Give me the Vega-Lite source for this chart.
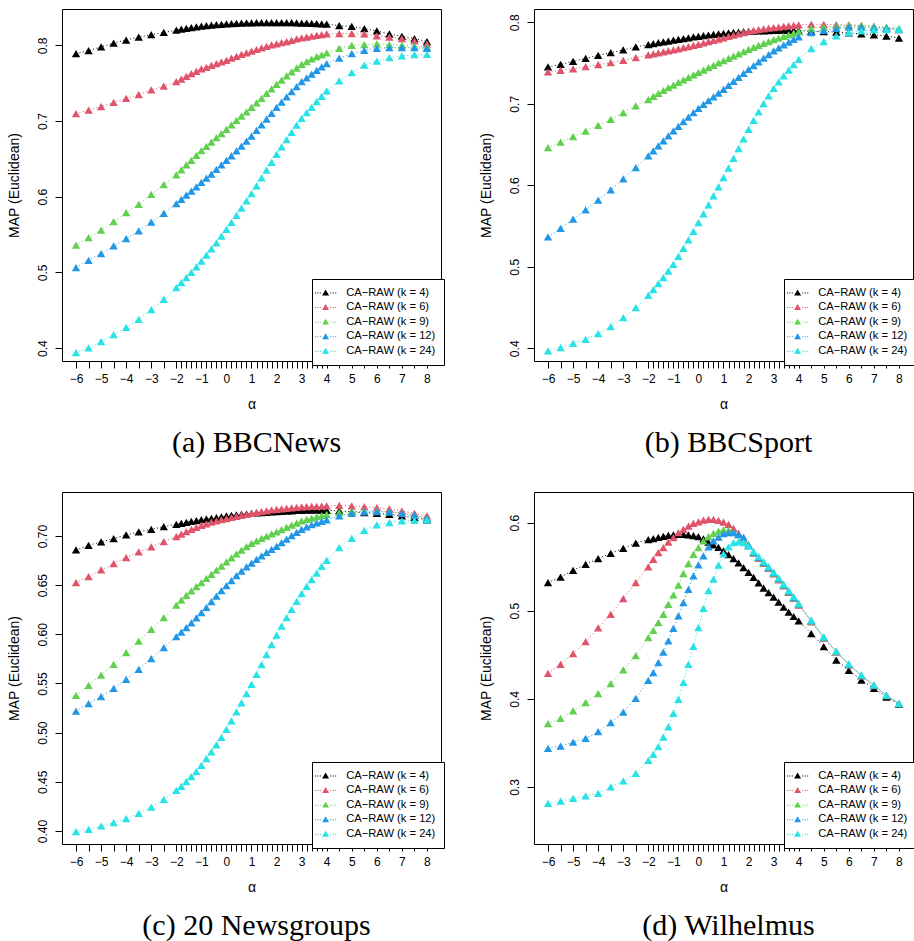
{
"$schema": "https://vega.github.io/schema/vega-lite/v6.json",
"padding": {"left": 6, "top": 8, "right": 0, "bottom": 1},
"background": "white",
"config": {
  "font": "Liberation Sans",
  "view": {"stroke": "black", "strokeWidth": 1},
  "axis": {"grid": false, "domain": false, "tickColor": "black", "tickSize": 7, "labelFont": "Liberation Sans", "labelFontSize": 12, "labelColor": "black", "titleFont": "Liberation Sans", "titleFontSize": 14, "titleFontWeight": "normal", "titleColor": "black"},
  "axisX": {"labelPadding": 5, "titlePadding": 13, "labelOverlap": false, "labelFlush": false},
  "axisY": {"labelAngle": -90, "labelAlign": "center", "labelBaseline": "bottom", "labelPadding": 6, "titlePadding": 15, "labelOverlap": false, "labelFlush": false},
  "legend": {"title": null, "orient": "none", "legendX": 250, "legendY": 270, "padding": 8, "strokeColor": "black", "strokeWidth": 1, "fillColor": "white", "cornerRadius": 0, "symbolType": "M0,-0.9L1,0.8L-1,0.8Z M-3.05,-0.04h0.3v0.3h-0.3Z M-2.35,-0.04h0.3v0.3h-0.3Z M-1.65,-0.04h0.3v0.3h-0.3Z M1.35,-0.04h0.3v0.3h-0.3Z M2.05,-0.04h0.3v0.3h-0.3Z M2.75,-0.04h0.3v0.3h-0.3Z", "symbolSize": 49, "symbolStrokeWidth": 0, "symbolOpacity": 1, "labelFont": "Liberation Sans", "labelFontSize": 11.2, "labelColor": "black", "labelOffset": 15, "rowPadding": 2.6, "labelLimit": 200},
  "title": {"font": "Liberation Serif", "fontSize": 30, "fontWeight": "normal", "color": "black", "orient": "bottom", "anchor": "middle", "offset": 17, "dx": 5}
},
"datasets": {
"bbcnews": [
{"a":-6,"k04":0.789,"k06":0.7097,"k09":0.536,"k12":0.5064,"k24":0.394},
{"a":-5.5,"k04":0.793,"k06":0.7145,"k09":0.546,"k12":0.516,"k24":0.4005},
{"a":-5,"k04":0.798,"k06":0.719,"k09":0.556,"k12":0.525,"k24":0.4085},
{"a":-4.5,"k04":0.803,"k06":0.7245,"k09":0.567,"k12":0.535,"k24":0.4177},
{"a":-4,"k04":0.807,"k06":0.73,"k09":0.579,"k12":0.5445,"k24":0.4274},
{"a":-3.5,"k04":0.811,"k06":0.735,"k09":0.59,"k12":0.555,"k24":0.438},
{"a":-3,"k04":0.814,"k06":0.741,"k09":0.603,"k12":0.5665,"k24":0.451},
{"a":-2.5,"k04":0.817,"k06":0.746,"k09":0.616,"k12":0.578,"k24":0.4645},
{"a":-2,"k04":0.82,"k06":0.752,"k09":0.629,"k12":0.591,"k24":0.48},
{"a":-1.8,"k04":0.8215,"k06":0.7555,"k09":0.6355,"k12":0.5965,"k24":0.4865},
{"a":-1.6,"k04":0.8225,"k06":0.759,"k09":0.642,"k12":0.602,"k24":0.493},
{"a":-1.4,"k04":0.8235,"k06":0.7625,"k09":0.648,"k12":0.6075,"k24":0.5},
{"a":-1.2,"k04":0.8245,"k06":0.7655,"k09":0.6545,"k12":0.613,"k24":0.5075},
{"a":-1,"k04":0.8253,"k06":0.769,"k09":0.661,"k12":0.619,"k24":0.515},
{"a":-0.8,"k04":0.826,"k06":0.771,"k09":0.6665,"k12":0.6245,"k24":0.523},
{"a":-0.6,"k04":0.8267,"k06":0.7735,"k09":0.672,"k12":0.63,"k24":0.531},
{"a":-0.4,"k04":0.8273,"k06":0.776,"k09":0.678,"k12":0.636,"k24":0.539},
{"a":-0.2,"k04":0.8278,"k06":0.778,"k09":0.6835,"k12":0.642,"k24":0.548},
{"a":0,"k04":0.8283,"k06":0.78,"k09":0.689,"k12":0.648,"k24":0.557},
{"a":0.2,"k04":0.8287,"k06":0.783,"k09":0.695,"k12":0.654,"k24":0.566},
{"a":0.4,"k04":0.829,"k06":0.7855,"k09":0.701,"k12":0.6605,"k24":0.5755},
{"a":0.6,"k04":0.8293,"k06":0.788,"k09":0.7065,"k12":0.667,"k24":0.585},
{"a":0.8,"k04":0.8296,"k06":0.79,"k09":0.712,"k12":0.6735,"k24":0.5945},
{"a":1,"k04":0.8298,"k06":0.7925,"k09":0.718,"k12":0.68,"k24":0.604},
{"a":1.2,"k04":0.83,"k06":0.7945,"k09":0.724,"k12":0.6875,"k24":0.6145},
{"a":1.4,"k04":0.83,"k06":0.7965,"k09":0.73,"k12":0.695,"k24":0.625},
{"a":1.6,"k04":0.8301,"k06":0.7985,"k09":0.7365,"k12":0.7025,"k24":0.635},
{"a":1.8,"k04":0.8301,"k06":0.8005,"k09":0.7425,"k12":0.71,"k24":0.6455},
{"a":2,"k04":0.8301,"k06":0.802,"k09":0.7485,"k12":0.718,"k24":0.656},
{"a":2.2,"k04":0.83,"k06":0.8035,"k09":0.754,"k12":0.725,"k24":0.666},
{"a":2.4,"k04":0.83,"k06":0.805,"k09":0.7595,"k12":0.732,"k24":0.6755},
{"a":2.6,"k04":0.8299,"k06":0.8065,"k09":0.765,"k12":0.739,"k24":0.685},
{"a":2.8,"k04":0.8297,"k06":0.8085,"k09":0.77,"k12":0.7455,"k24":0.6945},
{"a":3,"k04":0.8295,"k06":0.81,"k09":0.775,"k12":0.752,"k24":0.7036},
{"a":3.2,"k04":0.8293,"k06":0.811,"k09":0.7785,"k12":0.757,"k24":0.711},
{"a":3.4,"k04":0.829,"k06":0.812,"k09":0.782,"k12":0.762,"k24":0.718},
{"a":3.6,"k04":0.8287,"k06":0.813,"k09":0.785,"k12":0.767,"k24":0.7255},
{"a":3.8,"k04":0.8284,"k06":0.814,"k09":0.7875,"k12":0.7715,"k24":0.7325},
{"a":4,"k04":0.828,"k06":0.815,"k09":0.79,"k12":0.776,"k24":0.7397},
{"a":4.5,"k04":0.826,"k06":0.8155,"k09":0.796,"k12":0.783,"k24":0.7529},
{"a":5,"k04":0.825,"k06":0.8155,"k09":0.8,"k12":0.789,"k24":0.764},
{"a":5.5,"k04":0.822,"k06":0.815,"k09":0.801,"k12":0.7935,"k24":0.7737},
{"a":6,"k04":0.819,"k06":0.8125,"k09":0.802,"k12":0.796,"k24":0.779},
{"a":6.5,"k04":0.815,"k06":0.811,"k09":0.801,"k12":0.797,"k24":0.7838},
{"a":7,"k04":0.812,"k06":0.809,"k09":0.8,"k12":0.797,"k24":0.786},
{"a":7.5,"k04":0.809,"k06":0.806,"k09":0.799,"k12":0.797,"k24":0.7877},
{"a":8,"k04":0.805,"k06":0.802,"k09":0.798,"k12":0.796,"k24":0.788}
],
"bbcsport": [
{"a":-6,"k04":0.7452,"k06":0.739,"k09":0.6461,"k12":0.5366,"k24":0.3967},
{"a":-5.5,"k04":0.7483,"k06":0.741,"k09":0.653,"k12":0.547,"k24":0.4008},
{"a":-5,"k04":0.752,"k06":0.7427,"k09":0.6597,"k12":0.5584,"k24":0.4061},
{"a":-4.5,"k04":0.7557,"k06":0.7455,"k09":0.6666,"k12":0.5699,"k24":0.411},
{"a":-4,"k04":0.7594,"k06":0.748,"k09":0.6736,"k12":0.5817,"k24":0.418},
{"a":-3.5,"k04":0.7627,"k06":0.7504,"k09":0.681,"k12":0.5944,"k24":0.4266},
{"a":-3,"k04":0.766,"k06":0.7533,"k09":0.6892,"k12":0.6079,"k24":0.4376},
{"a":-2.5,"k04":0.7697,"k06":0.7565,"k09":0.6974,"k12":0.6218,"k24":0.4499},
{"a":-2,"k04":0.7725,"k06":0.76,"k09":0.7052,"k12":0.6361,"k24":0.465},
{"a":-1.8,"k04":0.7737,"k06":0.7612,"k09":0.709,"k12":0.6423,"k24":0.472},
{"a":-1.6,"k04":0.7749,"k06":0.7624,"k09":0.7127,"k12":0.6485,"k24":0.4792},
{"a":-1.4,"k04":0.776,"k06":0.7636,"k09":0.7163,"k12":0.6546,"k24":0.4868},
{"a":-1.2,"k04":0.777,"k06":0.7649,"k09":0.7197,"k12":0.6607,"k24":0.4947},
{"a":-1,"k04":0.778,"k06":0.7662,"k09":0.723,"k12":0.6667,"k24":0.503},
{"a":-0.8,"k04":0.779,"k06":0.7675,"k09":0.7262,"k12":0.6724,"k24":0.5127},
{"a":-0.6,"k04":0.78,"k06":0.7688,"k09":0.7293,"k12":0.678,"k24":0.5227},
{"a":-0.4,"k04":0.781,"k06":0.7702,"k09":0.7324,"k12":0.6836,"k24":0.5329},
{"a":-0.2,"k04":0.782,"k06":0.7716,"k09":0.7355,"k12":0.6891,"k24":0.5434},
{"a":0,"k04":0.7828,"k06":0.773,"k09":0.7385,"k12":0.6945,"k24":0.5541},
{"a":0.2,"k04":0.7836,"k06":0.7746,"k09":0.7414,"k12":0.6992,"k24":0.565},
{"a":0.4,"k04":0.7844,"k06":0.7762,"k09":0.7443,"k12":0.7039,"k24":0.576},
{"a":0.6,"k04":0.7851,"k06":0.7778,"k09":0.7472,"k12":0.7085,"k24":0.5871},
{"a":0.8,"k04":0.7858,"k06":0.7794,"k09":0.7501,"k12":0.7131,"k24":0.5982},
{"a":1,"k04":0.7865,"k06":0.781,"k09":0.753,"k12":0.7178,"k24":0.6093},
{"a":1.2,"k04":0.787,"k06":0.7826,"k09":0.7558,"k12":0.7227,"k24":0.6212},
{"a":1.4,"k04":0.7875,"k06":0.7842,"k09":0.7586,"k12":0.7276,"k24":0.6331},
{"a":1.6,"k04":0.788,"k06":0.7858,"k09":0.7613,"k12":0.7325,"k24":0.645},
{"a":1.8,"k04":0.7884,"k06":0.7874,"k09":0.764,"k12":0.7374,"k24":0.6569},
{"a":2,"k04":0.7888,"k06":0.789,"k09":0.7667,"k12":0.7423,"k24":0.6687},
{"a":2.2,"k04":0.7891,"k06":0.7901,"k09":0.7692,"k12":0.7469,"k24":0.6795},
{"a":2.4,"k04":0.7894,"k06":0.7911,"k09":0.7717,"k12":0.7515,"k24":0.69},
{"a":2.6,"k04":0.7896,"k06":0.792,"k09":0.7741,"k12":0.756,"k24":0.7001},
{"a":2.8,"k04":0.7898,"k06":0.7928,"k09":0.7764,"k12":0.7604,"k24":0.7098},
{"a":3,"k04":0.79,"k06":0.7935,"k09":0.7786,"k12":0.7648,"k24":0.719},
{"a":3.2,"k04":0.7901,"k06":0.7942,"k09":0.7807,"k12":0.7686,"k24":0.7268},
{"a":3.4,"k04":0.7901,"k06":0.7949,"k09":0.7827,"k12":0.7722,"k24":0.7342},
{"a":3.6,"k04":0.7901,"k06":0.7955,"k09":0.7847,"k12":0.7757,"k24":0.7413},
{"a":3.8,"k04":0.79,"k06":0.7961,"k09":0.7866,"k12":0.7789,"k24":0.7481},
{"a":4,"k04":0.7898,"k06":0.7967,"k09":0.7885,"k12":0.782,"k24":0.7546},
{"a":4.5,"k04":0.789,"k06":0.7975,"k09":0.7926,"k12":0.7873,"k24":0.7677},
{"a":5,"k04":0.7885,"k06":0.7975,"k09":0.7942,"k12":0.79,"k24":0.7763},
{"a":5.5,"k04":0.788,"k06":0.797,"k09":0.7954,"k12":0.7926,"k24":0.7833},
{"a":6,"k04":0.787,"k06":0.7967,"k09":0.7963,"k12":0.7942,"k24":0.7873},
{"a":6.5,"k04":0.7857,"k06":0.796,"k09":0.7963,"k12":0.7942,"k24":0.7894},
{"a":7,"k04":0.7845,"k06":0.7947,"k09":0.7954,"k12":0.7934,"k24":0.7906},
{"a":7.5,"k04":0.783,"k06":0.793,"k09":0.7942,"k12":0.7926,"k24":0.791},
{"a":8,"k04":0.7807,"k06":0.7911,"k09":0.7926,"k12":0.791,"k24":0.7914}
],
"ng20": [
{"a":-6,"k04":0.6858,"k06":0.6525,"k09":0.538,"k12":0.522,"k24":0.3993},
{"a":-5.5,"k04":0.6905,"k06":0.6586,"k09":0.5481,"k12":0.5295,"k24":0.4017},
{"a":-5,"k04":0.6939,"k06":0.6654,"k09":0.5586,"k12":0.5366,"k24":0.4051},
{"a":-4.5,"k04":0.6973,"k06":0.6719,"k09":0.5695,"k12":0.5451,"k24":0.4085},
{"a":-4,"k04":0.701,"k06":0.678,"k09":0.5814,"k12":0.5542,"k24":0.4125},
{"a":-3.5,"k04":0.7041,"k06":0.6837,"k09":0.5932,"k12":0.5644,"k24":0.418},
{"a":-3,"k04":0.7068,"k06":0.6888,"k09":0.6051,"k12":0.5753,"k24":0.4244},
{"a":-2.5,"k04":0.7095,"k06":0.6942,"k09":0.6169,"k12":0.5864,"k24":0.4322},
{"a":-2,"k04":0.7119,"k06":0.6993,"k09":0.6298,"k12":0.5976,"k24":0.4414},
{"a":-1.8,"k04":0.7129,"k06":0.7019,"k09":0.6348,"k12":0.6022,"k24":0.4455},
{"a":-1.6,"k04":0.7139,"k06":0.7044,"k09":0.6396,"k12":0.6068,"k24":0.4502},
{"a":-1.4,"k04":0.7148,"k06":0.7066,"k09":0.6441,"k12":0.6117,"k24":0.4552},
{"a":-1.2,"k04":0.7157,"k06":0.7088,"k09":0.6484,"k12":0.6167,"k24":0.4605},
{"a":-1,"k04":0.7165,"k06":0.7108,"k09":0.6525,"k12":0.622,"k24":0.4667},
{"a":-0.8,"k04":0.7173,"k06":0.7124,"k09":0.6568,"k12":0.6275,"k24":0.4735},
{"a":-0.6,"k04":0.718,"k06":0.714,"k09":0.661,"k12":0.6332,"k24":0.4805},
{"a":-0.4,"k04":0.7187,"k06":0.7154,"k09":0.6652,"k12":0.6389,"k24":0.4877},
{"a":-0.2,"k04":0.7195,"k06":0.7166,"k09":0.6694,"k12":0.6444,"k24":0.4953},
{"a":0,"k04":0.7203,"k06":0.7176,"k09":0.6736,"k12":0.6495,"k24":0.5034},
{"a":0.2,"k04":0.7209,"k06":0.7188,"k09":0.6778,"k12":0.6547,"k24":0.5121},
{"a":0.4,"k04":0.7215,"k06":0.72,"k09":0.6818,"k12":0.6597,"k24":0.5211},
{"a":0.6,"k04":0.722,"k06":0.721,"k09":0.6857,"k12":0.6643,"k24":0.5302},
{"a":0.8,"k04":0.7225,"k06":0.722,"k09":0.6892,"k12":0.6686,"k24":0.5396},
{"a":1,"k04":0.723,"k06":0.723,"k09":0.6925,"k12":0.6725,"k24":0.5492},
{"a":1.2,"k04":0.7234,"k06":0.7239,"k09":0.6951,"k12":0.6762,"k24":0.5592},
{"a":1.4,"k04":0.7238,"k06":0.7248,"k09":0.6975,"k12":0.6798,"k24":0.5693},
{"a":1.6,"k04":0.7241,"k06":0.7256,"k09":0.6998,"k12":0.6832,"k24":0.5794},
{"a":1.8,"k04":0.7244,"k06":0.7264,"k09":0.702,"k12":0.6864,"k24":0.5894},
{"a":2,"k04":0.7247,"k06":0.7271,"k09":0.7041,"k12":0.6895,"k24":0.5993},
{"a":2.2,"k04":0.725,"k06":0.7276,"k09":0.7064,"k12":0.6932,"k24":0.6083},
{"a":2.4,"k04":0.7253,"k06":0.7281,"k09":0.7087,"k12":0.6968,"k24":0.617},
{"a":2.6,"k04":0.7256,"k06":0.7286,"k09":0.7109,"k12":0.7003,"k24":0.6254},
{"a":2.8,"k04":0.7259,"k06":0.7291,"k09":0.7131,"k12":0.7036,"k24":0.6335},
{"a":3,"k04":0.7261,"k06":0.7295,"k09":0.7153,"k12":0.7068,"k24":0.6414},
{"a":3.2,"k04":0.7262,"k06":0.7298,"k09":0.7168,"k12":0.7092,"k24":0.6487},
{"a":3.4,"k04":0.7263,"k06":0.73,"k09":0.7182,"k12":0.7114,"k24":0.6557},
{"a":3.6,"k04":0.7263,"k06":0.7302,"k09":0.7196,"k12":0.7133,"k24":0.6623},
{"a":3.8,"k04":0.7262,"k06":0.7304,"k09":0.7208,"k12":0.7149,"k24":0.669},
{"a":4,"k04":0.7261,"k06":0.7305,"k09":0.722,"k12":0.7163,"k24":0.6753},
{"a":4.5,"k04":0.7254,"k06":0.7312,"k09":0.7237,"k12":0.7203,"k24":0.6881},
{"a":5,"k04":0.7247,"k06":0.7305,"k09":0.7247,"k12":0.723,"k24":0.6976},
{"a":5.5,"k04":0.7237,"k06":0.7298,"k09":0.7254,"k12":0.7244,"k24":0.7058},
{"a":6,"k04":0.723,"k06":0.7288,"k09":0.7254,"k12":0.7247,"k24":0.7112},
{"a":6.5,"k04":0.722,"k06":0.7275,"k09":0.7247,"k12":0.7244,"k24":0.7136},
{"a":7,"k04":0.7203,"k06":0.7254,"k09":0.723,"k12":0.723,"k24":0.7153},
{"a":7.5,"k04":0.7186,"k06":0.723,"k09":0.721,"k12":0.721,"k24":0.7159},
{"a":8,"k04":0.7163,"k06":0.7203,"k09":0.718,"k12":0.718,"k24":0.7163}
],
"wilhelmus": [
{"a":-6,"k04":0.5319,"k06":0.429,"k09":0.3719,"k12":0.3439,"k24":0.2815},
{"a":-5.5,"k04":0.5383,"k06":0.4392,"k09":0.3779,"k12":0.3465,"k24":0.2841},
{"a":-5,"k04":0.5459,"k06":0.4513,"k09":0.3863,"k12":0.351,"k24":0.2871},
{"a":-4.5,"k04":0.5527,"k06":0.465,"k09":0.3957,"k12":0.3552,"k24":0.2898},
{"a":-4,"k04":0.5591,"k06":0.4805,"k09":0.4059,"k12":0.3628,"k24":0.2928},
{"a":-3.5,"k04":0.5652,"k06":0.496,"k09":0.4173,"k12":0.373,"k24":0.3},
{"a":-3,"k04":0.5709,"k06":0.5137,"k09":0.4328,"k12":0.3851,"k24":0.3068},
{"a":-2.5,"k04":0.5769,"k06":0.5319,"k09":0.4491,"k12":0.4006,"k24":0.3155},
{"a":-2,"k04":0.5807,"k06":0.5497,"k09":0.4695,"k12":0.421,"k24":0.3303},
{"a":-1.8,"k04":0.582,"k06":0.5584,"k09":0.4778,"k12":0.4297,"k24":0.3371},
{"a":-1.6,"k04":0.5833,"k06":0.566,"k09":0.4865,"k12":0.4411,"k24":0.3458},
{"a":-1.4,"k04":0.5845,"k06":0.5716,"k09":0.496,"k12":0.4532,"k24":0.3567},
{"a":-1.2,"k04":0.5855,"k06":0.578,"k09":0.5073,"k12":0.4657,"k24":0.3681},
{"a":-1,"k04":0.5862,"k06":0.583,"k09":0.5179,"k12":0.4801,"k24":0.3836},
{"a":-0.8,"k04":0.5866,"k06":0.5886,"k09":0.5292,"k12":0.4941,"k24":0.3995},
{"a":-0.6,"k04":0.5866,"k06":0.5924,"k09":0.5421,"k12":0.5092,"k24":0.4188},
{"a":-0.4,"k04":0.5862,"k06":0.5962,"k09":0.5534,"k12":0.5243,"k24":0.4392},
{"a":-0.2,"k04":0.5853,"k06":0.5992,"k09":0.564,"k12":0.5395,"k24":0.4597},
{"a":0,"k04":0.5842,"k06":0.601,"k09":0.5716,"k12":0.552,"k24":0.4808},
{"a":0.2,"k04":0.5815,"k06":0.603,"k09":0.5792,"k12":0.5622,"k24":0.5026},
{"a":0.4,"k04":0.578,"k06":0.6036,"k09":0.5841,"k12":0.5724,"k24":0.5228},
{"a":0.6,"k04":0.5748,"k06":0.6036,"k09":0.5879,"k12":0.5792,"k24":0.536},
{"a":0.8,"k04":0.572,"k06":0.6025,"k09":0.5905,"k12":0.5837,"k24":0.5518},
{"a":1,"k04":0.568,"k06":0.6006,"k09":0.5917,"k12":0.5875,"k24":0.5645},
{"a":1.2,"k04":0.5638,"k06":0.598,"k09":0.5913,"k12":0.5886,"k24":0.5724},
{"a":1.4,"k04":0.5592,"k06":0.5935,"k09":0.5894,"k12":0.5886,"k24":0.5773},
{"a":1.6,"k04":0.5543,"k06":0.588,"k09":0.586,"k12":0.5867,"k24":0.5784},
{"a":1.8,"k04":0.549,"k06":0.5812,"k09":0.5805,"k12":0.5835,"k24":0.5773},
{"a":2,"k04":0.5435,"k06":0.5745,"k09":0.5742,"k12":0.5748,"k24":0.5735},
{"a":2.2,"k04":0.5378,"k06":0.5655,"k09":0.566,"k12":0.5665,"k24":0.5675},
{"a":2.4,"k04":0.5318,"k06":0.5595,"k09":0.5602,"k12":0.5607,"k24":0.5615},
{"a":2.6,"k04":0.5258,"k06":0.5537,"k09":0.5545,"k12":0.555,"k24":0.5558},
{"a":2.8,"k04":0.5205,"k06":0.548,"k09":0.5487,"k12":0.5492,"k24":0.55},
{"a":3,"k04":0.5155,"k06":0.542,"k09":0.5427,"k12":0.5432,"k24":0.544},
{"a":3.2,"k04":0.5098,"k06":0.5352,"k09":0.5359,"k12":0.5364,"k24":0.5372},
{"a":3.4,"k04":0.504,"k06":0.5282,"k09":0.5289,"k12":0.5294,"k24":0.5302},
{"a":3.6,"k04":0.4985,"k06":0.521,"k09":0.5217,"k12":0.5222,"k24":0.523},
{"a":3.8,"k04":0.4935,"k06":0.514,"k09":0.5147,"k12":0.5152,"k24":0.516},
{"a":4,"k04":0.4884,"k06":0.5065,"k09":0.5072,"k12":0.5077,"k24":0.5085},
{"a":4.5,"k04":0.474,"k06":0.4875,"k09":0.4882,"k12":0.4888,"k24":0.4894},
{"a":5,"k04":0.4593,"k06":0.4688,"k09":0.4694,"k12":0.47,"k24":0.4705},
{"a":5.5,"k04":0.4441,"k06":0.453,"k09":0.4535,"k12":0.4538,"k24":0.4543},
{"a":6,"k04":0.4324,"k06":0.4386,"k09":0.439,"k12":0.4393,"k24":0.4397},
{"a":6.5,"k04":0.4214,"k06":0.4262,"k09":0.4265,"k12":0.4268,"k24":0.4272},
{"a":7,"k04":0.412,"k06":0.415,"k09":0.4152,"k12":0.4155,"k24":0.4158},
{"a":7.5,"k04":0.4021,"k06":0.4036,"k09":0.4039,"k12":0.404,"k24":0.4043},
{"a":8,"k04":0.3938,"k06":0.3944,"k09":0.3945,"k12":0.3946,"k24":0.3948}
]
},
"columns": 2,
"spacing": {"row": 131, "column": 93},
"bounds": "flush",
"resolve": {"scale": {"x": "independent", "y": "independent", "color": "independent"}, "legend": {"color": "independent"}},
"concat": [
{
 "title": "(a) BBCNews",
 "width": 379, "height": 352,
 "data": {"name": "bbcnews"},
 "transform": [{"fold": ["k04","k06","k09","k12","k24"], "as": ["series","MAP"]}],
 "encoding": {
  "x": {"field": "a", "type": "quantitative", "scale": {"domain": [-6.56, 8.56], "nice": false, "zero": false}, "axis": {"title": "α", "values": [-6,-5.5,-5,-4.5,-4,-3.5,-3,-2.5,-2,-1.8,-1.6,-1.4,-1.2,-1,-0.8,-0.6,-0.4,-0.2,0,0.2,0.4,0.6,0.8,1,1.2,1.4,1.6,1.8,2,2.2,2.4,2.6,2.8,3,3.2,3.4,3.6,3.8,4,4.5,5,5.5,6,6.5,7,7.5,8], "tickCount": 100, "tickMinStep": 0.1, "labelOverlap": false, "labelExpr": "datum.value % 1 == 0 ? format(datum.value, 'd') : ''"}},
  "y": {"field": "MAP", "type": "quantitative", "scale": {"domain": [0.383, 0.848], "nice": false, "zero": false}, "axis": {"title": "MAP (Euclidean)", "values": [0.4,0.5,0.6,0.7,0.8], "format": ".1f", "labelOverlap": false}},
  "color": {"field": "series", "type": "nominal", "scale": {"domain": ["k04","k06","k09","k12","k24"], "range": ["#000000","#DF536B","#61D04F","#2297E6","#28E2E5"]}, "legend": {"labelExpr": "'CA−RAW (k = ' + toNumber(slice(datum.label,1)) + ')'"}}
 },
 "layer": [
  {"mark": {"type": "line", "strokeDash": [1,2.5], "strokeWidth": 1}},
  {"mark": {"type": "point", "shape": "triangle-up", "filled": true, "opacity": 1, "size": 70}, "encoding": {"order": {"field": "series"}}}
 ]
},
{
 "title": "(b) BBCSport",
 "width": 379, "height": 352,
 "data": {"name": "bbcsport"},
 "transform": [{"fold": ["k04","k06","k09","k12","k24"], "as": ["series","MAP"]}],
 "encoding": {
  "x": {"field": "a", "type": "quantitative", "scale": {"domain": [-6.56, 8.56], "nice": false, "zero": false}, "axis": {"title": "α", "values": [-6,-5.5,-5,-4.5,-4,-3.5,-3,-2.5,-2,-1.8,-1.6,-1.4,-1.2,-1,-0.8,-0.6,-0.4,-0.2,0,0.2,0.4,0.6,0.8,1,1.2,1.4,1.6,1.8,2,2.2,2.4,2.6,2.8,3,3.2,3.4,3.6,3.8,4,4.5,5,5.5,6,6.5,7,7.5,8], "tickCount": 100, "tickMinStep": 0.1, "labelOverlap": false, "labelExpr": "datum.value % 1 == 0 ? format(datum.value, 'd') : ''"}},
  "y": {"field": "MAP", "type": "quantitative", "scale": {"domain": [0.3844, 0.8163], "nice": false, "zero": false}, "axis": {"title": "MAP (Euclidean)", "values": [0.4,0.5,0.6,0.7,0.8], "format": ".1f", "labelOverlap": false}},
  "color": {"field": "series", "type": "nominal", "scale": {"domain": ["k04","k06","k09","k12","k24"], "range": ["#000000","#DF536B","#61D04F","#2297E6","#28E2E5"]}, "legend": {"labelExpr": "'CA−RAW (k = ' + toNumber(slice(datum.label,1)) + ')'"}}
 },
 "layer": [
  {"mark": {"type": "line", "strokeDash": [1,2.5], "strokeWidth": 1}},
  {"mark": {"type": "point", "shape": "triangle-up", "filled": true, "opacity": 1, "size": 70}, "encoding": {"order": {"field": "series"}}}
 ]
},
{
 "title": "(c) 20 Newsgroups",
 "width": 379, "height": 352,
 "data": {"name": "ng20"},
 "transform": [{"fold": ["k04","k06","k09","k12","k24"], "as": ["series","MAP"]}],
 "encoding": {
  "x": {"field": "a", "type": "quantitative", "scale": {"domain": [-6.56, 8.56], "nice": false, "zero": false}, "axis": {"title": "α", "values": [-6,-5.5,-5,-4.5,-4,-3.5,-3,-2.5,-2,-1.8,-1.6,-1.4,-1.2,-1,-0.8,-0.6,-0.4,-0.2,0,0.2,0.4,0.6,0.8,1,1.2,1.4,1.6,1.8,2,2.2,2.4,2.6,2.8,3,3.2,3.4,3.6,3.8,4,4.5,5,5.5,6,6.5,7,7.5,8], "tickCount": 100, "tickMinStep": 0.1, "labelOverlap": false, "labelExpr": "datum.value % 1 == 0 ? format(datum.value, 'd') : ''"}},
  "y": {"field": "MAP", "type": "quantitative", "scale": {"domain": [0.3868, 0.7447], "nice": false, "zero": false}, "axis": {"title": "MAP (Euclidean)", "values": [0.4,0.45,0.5,0.55,0.6,0.65,0.7], "format": ".2f", "labelOverlap": false}},
  "color": {"field": "series", "type": "nominal", "scale": {"domain": ["k04","k06","k09","k12","k24"], "range": ["#000000","#DF536B","#61D04F","#2297E6","#28E2E5"]}, "legend": {"labelExpr": "'CA−RAW (k = ' + toNumber(slice(datum.label,1)) + ')'"}}
 },
 "layer": [
  {"mark": {"type": "line", "strokeDash": [1,2.5], "strokeWidth": 1}},
  {"mark": {"type": "point", "shape": "triangle-up", "filled": true, "opacity": 1, "size": 70}, "encoding": {"order": {"field": "series"}}}
 ]
},
{
 "title": "(d) Wilhelmus",
 "width": 379, "height": 352,
 "data": {"name": "wilhelmus"},
 "transform": [{"fold": ["k04","k06","k09","k12","k24"], "as": ["series","MAP"]}],
 "encoding": {
  "x": {"field": "a", "type": "quantitative", "scale": {"domain": [-6.56, 8.56], "nice": false, "zero": false}, "axis": {"title": "α", "values": [-6,-5.5,-5,-4.5,-4,-3.5,-3,-2.5,-2,-1.8,-1.6,-1.4,-1.2,-1,-0.8,-0.6,-0.4,-0.2,0,0.2,0.4,0.6,0.8,1,1.2,1.4,1.6,1.8,2,2.2,2.4,2.6,2.8,3,3.2,3.4,3.6,3.8,4,4.5,5,5.5,6,6.5,7,7.5,8], "tickCount": 100, "tickMinStep": 0.1, "labelOverlap": false, "labelExpr": "datum.value % 1 == 0 ? format(datum.value, 'd') : ''"}},
  "y": {"field": "MAP", "type": "quantitative", "scale": {"domain": [0.2353, 0.6348], "nice": false, "zero": false}, "axis": {"title": "MAP (Euclidean)", "values": [0.3,0.4,0.5,0.6], "format": ".1f", "labelOverlap": false}},
  "color": {"field": "series", "type": "nominal", "scale": {"domain": ["k04","k06","k09","k12","k24"], "range": ["#000000","#DF536B","#61D04F","#2297E6","#28E2E5"]}, "legend": {"labelExpr": "'CA−RAW (k = ' + toNumber(slice(datum.label,1)) + ')'"}}
 },
 "layer": [
  {"mark": {"type": "line", "strokeDash": [1,2.5], "strokeWidth": 1}},
  {"mark": {"type": "point", "shape": "triangle-up", "filled": true, "opacity": 1, "size": 70}, "encoding": {"order": {"field": "series"}}}
 ]
}
]
}
